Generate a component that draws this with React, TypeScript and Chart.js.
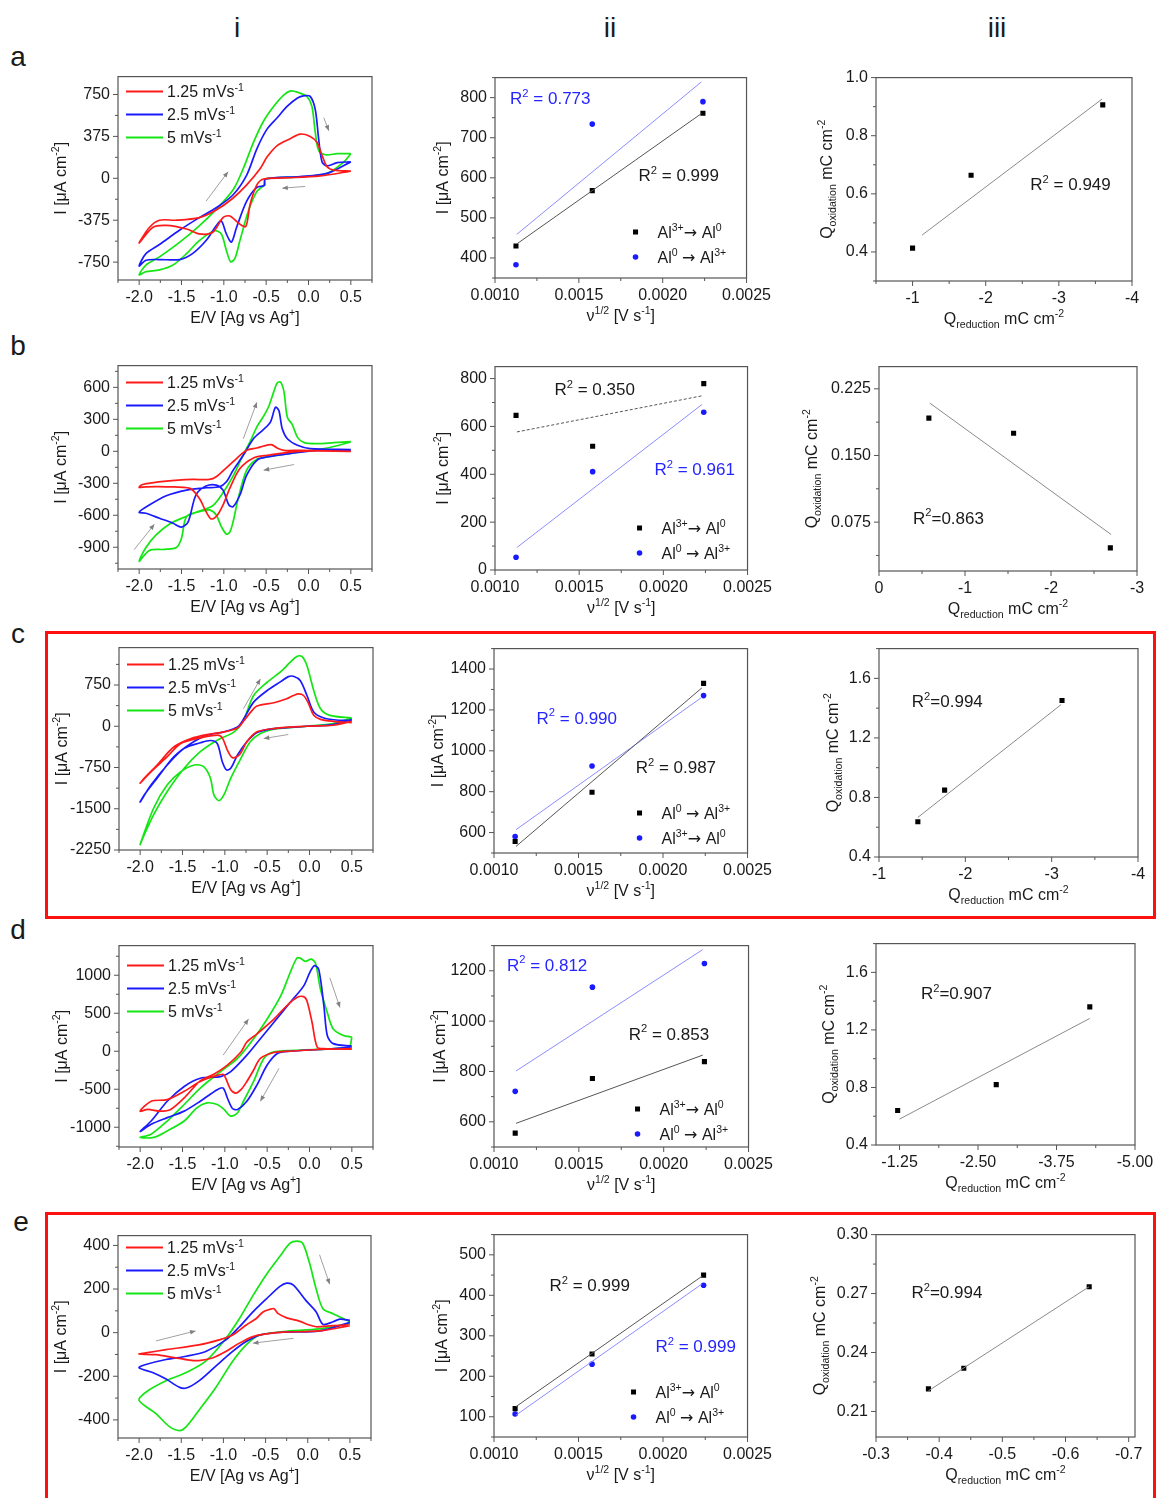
import React, { useEffect, useRef } from 'react';
import { Chart, registerables } from 'chart.js';

Chart.register(...registerables);

type Seg = [string, number];

const FONT = "'Liberation Sans', Arial, Helvetica, sans-serif";
const SYM_FONT = "'DejaVu Sans', sans-serif";
const C_RED = '#ff1a1a';
const C_BLUE = '#1a1aff';
const C_GREEN = '#14e614';
const C_TXT = '#1a1a1a';
const C_NOTE_BLUE = '#2525ff';

// ---------------- column i : cyclic voltammograms (E / V, I / uA cm-2) ----------------
const aRedE = [0.50, 0.14, -0.29, -0.53, -0.61, -0.69, -0.74, -0.81, -0.93, -1.01, -1.13, -1.29, -1.44, -1.68, -1.84, -2.00, -1.88, -1.76, -1.56, -1.29, -1.09, -0.89, -0.73, -0.57, -0.49, -0.37, -0.21, -0.10, 0.02, 0.10, 0.16, 0.22, 0.30, 0.50];
const aRedI = [64, 21, 3, -6, -59, -234, -431, -410, -337, -352, -483, -498, -454, -422, -440, -580, -440, -375, -375, -352, -284, -176, -59, 88, 190, 293, 357, 396, 375, 322, 205, 103, 73, 64];
const aBlueE = [0.50, 0.22, -0.10, -0.51, -0.52, -0.61, -0.73, -0.85, -0.91, -0.97, -1.03, -1.09, -1.21, -1.37, -1.52, -1.76, -1.92, -2.00, -1.92, -1.76, -1.52, -1.29, -1.09, -0.89, -0.73, -0.61, -0.49, -0.37, -0.25, -0.13, -0.06, 0.02, 0.08, 0.12, 0.16, 0.22, 0.34, 0.50];
const aBlueI = [147, 44, 15, -6, -64, -82, -205, -440, -571, -498, -381, -425, -557, -674, -727, -727, -733, -785, -674, -592, -463, -352, -264, -147, 29, 264, 440, 542, 645, 718, 738, 733, 615, 352, 147, 111, 141, 147];
const aGreenE = [0.50, 0.42, 0.22, -0.10, -0.51, -0.53, -0.61, -0.71, -0.81, -0.87, -0.92, -0.97, -1.03, -1.11, -1.29, -1.44, -1.60, -1.76, -1.92, -2.00, -1.92, -1.76, -1.52, -1.29, -1.09, -0.89, -0.77, -0.65, -0.53, -0.41, -0.29, -0.21, -0.12, -0.02, 0.04, 0.08, 0.12, 0.20, 0.34, 0.50];
const aGreenI = [220, 147, 44, 12, -6, -64, -117, -293, -557, -718, -747, -645, -498, -469, -557, -674, -776, -820, -835, -864, -776, -703, -571, -425, -278, -103, 88, 322, 513, 645, 747, 782, 768, 733, 645, 410, 249, 211, 220, 220];

const bRedE = [0.50, -0.10, -0.49, -0.65, -0.81, -0.93, -1.01, -1.09, -1.15, -1.21, -1.29, -1.40, -1.68, -1.92, -2.00, -1.96, -1.68, -1.37, -1.17, -1.09, -0.97, -0.85, -0.73, -0.61, -0.53, -0.44, -0.37, -0.29, -0.10, 0.50];
const bRedI = [0, 0, -37, -62, -162, -348, -504, -612, -634, -566, -441, -348, -333, -333, -339, -311, -280, -264, -264, -239, -155, -68, 9, 31, 50, 62, 31, 9, 9, 0];
const bBlueE = [0.50, 0.10, -0.17, -0.49, -0.61, -0.73, -0.81, -0.89, -0.94, -1.01, -1.09, -1.21, -1.33, -1.42, -1.50, -1.60, -1.76, -1.92, -2.00, -1.88, -1.68, -1.44, -1.21, -1.05, -0.97, -0.89, -0.77, -0.65, -0.53, -0.45, -0.39, -0.35, -0.31, -0.25, -0.13, 0.02, 0.50];
const bBlueI = [9, 9, -16, -53, -84, -224, -410, -519, -504, -364, -317, -326, -410, -659, -712, -675, -628, -581, -572, -504, -417, -364, -342, -333, -286, -177, -37, 118, 205, 274, 413, 382, 211, 118, 56, 25, 16];
const bGreenE = [0.50, 0.22, -0.10, -0.49, -0.61, -0.73, -0.83, -0.89, -0.93, -0.97, -1.03, -1.09, -1.17, -1.29, -1.44, -1.50, -1.56, -1.70, -1.88, -2.00, -1.92, -1.80, -1.64, -1.44, -1.29, -1.13, -1.01, -0.89, -0.77, -0.69, -0.61, -0.53, -0.47, -0.41, -0.37, -0.33, -0.29, -0.25, -0.19, -0.13, -0.05, 0.10, 0.30, 0.50];
const bGreenI = [87, 31, -6, -53, -75, -177, -441, -659, -759, -777, -706, -597, -550, -566, -612, -815, -902, -920, -930, -1032, -902, -784, -681, -609, -560, -510, -389, -230, -31, 90, 230, 330, 420, 560, 640, 650, 560, 320, 249, 131, 81, 72, 81, 90];

const cRedE = [0.50, 0.28, -0.03, -0.42, -0.62, -0.74, -0.83, -0.91, -0.97, -1.03, -1.09, -1.29, -1.52, -1.68, -1.87, -2.00, -1.95, -1.80, -1.60, -1.40, -1.21, -1.01, -0.85, -0.78, -0.70, -0.62, -0.42, -0.27, -0.19, -0.13, -0.07, -0.01, 0.05, 0.13, 0.28, 0.50];
const cRedI = [90, 18, 0, -42, -102, -283, -523, -571, -433, -211, -162, -211, -313, -553, -824, -1035, -944, -704, -373, -223, -150, -102, -30, 90, 247, 367, 427, 499, 559, 589, 559, 409, 198, 126, 90, 66];
const cBlueE = [0.50, 0.28, -0.03, -0.42, -0.62, -0.74, -0.85, -0.93, -0.98, -1.03, -1.09, -1.17, -1.29, -1.48, -1.68, -1.87, -2.00, -1.95, -1.80, -1.60, -1.40, -1.21, -1.01, -0.85, -0.78, -0.66, -0.50, -0.34, -0.25, -0.19, -0.11, -0.03, 0.05, 0.17, 0.36, 0.50];
const cBlueI = [126, 30, 0, -42, -114, -283, -523, -764, -794, -644, -313, -259, -301, -403, -704, -1065, -1377, -1245, -944, -553, -313, -162, -102, -12, 126, 439, 650, 812, 902, 908, 830, 559, 259, 150, 108, 108];
const cGreenE = [0.50, 0.28, -0.03, -0.42, -0.58, -0.70, -0.81, -0.93, -1.01, -1.07, -1.13, -1.17, -1.25, -1.36, -1.52, -1.68, -1.84, -2.00, -1.95, -1.84, -1.68, -1.48, -1.29, -1.09, -0.89, -0.78, -0.66, -0.50, -0.34, -0.23, -0.15, -0.09, -0.03, 0.05, 0.13, 0.24, 0.50];
const cGreenI = [150, 48, 0, -54, -132, -283, -583, -944, -1245, -1353, -1245, -944, -734, -704, -824, -1065, -1486, -2147, -1967, -1606, -1185, -764, -463, -253, -102, 108, 559, 800, 992, 1161, 1269, 1269, 1101, 650, 319, 198, 150];

const dRedE = [0.50, 0.17, -0.23, -0.42, -0.58, -0.66, -0.74, -0.81, -0.87, -0.93, -0.99, -1.02, -1.13, -1.29, -1.48, -1.68, -1.87, -2.00, -1.91, -1.76, -1.64, -1.48, -1.29, -1.13, -0.97, -0.81, -0.74, -0.62, -0.42, -0.27, -0.15, -0.07, -0.03, 0.03, 0.09, 0.17, 0.50];
const dRedI = [35, 26, 0, -17, -95, -247, -398, -506, -550, -506, -355, -303, -333, -398, -528, -636, -658, -788, -766, -788, -766, -615, -390, -303, -182, -9, 121, 229, 424, 597, 706, 719, 662, 381, 56, 35, 26];
const dBlueE = [0.50, 0.17, -0.23, -0.38, -0.50, -0.62, -0.74, -0.85, -0.91, -0.97, -1.02, -1.09, -1.29, -1.48, -1.68, -1.87, -2.00, -1.87, -1.68, -1.48, -1.29, -1.05, -0.93, -0.74, -0.58, -0.42, -0.23, -0.07, 0.01, 0.06, 0.11, 0.17, 0.21, 0.28, 0.50];
const dBlueI = [56, 26, 0, -30, -182, -442, -658, -766, -753, -615, -485, -506, -658, -788, -874, -961, -1056, -918, -658, -463, -355, -333, -268, -52, 164, 381, 641, 857, 1052, 1126, 1074, 597, 208, 100, 69];
const dGreenE = [0.50, 0.47, 0.30, -0.05, -0.42, -0.54, -0.66, -0.78, -0.85, -0.93, -1.01, -1.09, -1.21, -1.33, -1.48, -1.68, -1.84, -2.00, -1.87, -1.68, -1.48, -1.29, -1.05, -0.85, -0.66, -0.50, -0.34, -0.23, -0.15, -0.11, -0.05, 0.02, 0.07, 0.13, 0.21, 0.28, 0.40, 0.50];
const dGreenI = [186, 60, 35, 17, -9, -95, -398, -658, -810, -853, -766, -701, -680, -745, -918, -1048, -1134, -1134, -1091, -918, -701, -485, -268, -95, 164, 424, 727, 1030, 1225, 1225, 1182, 1212, 1160, 814, 511, 294, 208, 186];

const eRedE = [0.50, 0.14, -0.29, -0.53, -0.65, -0.81, -0.97, -1.13, -1.29, -1.40, -1.60, -1.80, -2.00, -1.92, -1.68, -1.29, -1.05, -0.89, -0.73, -0.61, -0.53, -0.45, -0.40, -0.35, -0.25, -0.10, 0.02, 0.10, 0.30, 0.50];
const eRedI = [32, 8, 2, -8, -18, -48, -86, -116, -128, -126, -113, -101, -98, -93, -78, -56, -33, -11, 35, 65, 95, 107, 110, 87, 68, 53, 35, 27, 32, 35];
const eBlueE = [0.50, 0.14, -0.29, -0.57, -0.73, -0.89, -1.09, -1.29, -1.44, -1.52, -1.68, -1.84, -2.00, -1.92, -1.68, -1.44, -1.21, -0.97, -0.81, -0.65, -0.49, -0.33, -0.25, -0.17, -0.02, 0.10, 0.18, 0.30, 0.38, 0.50];
const eBlueI = [47, 8, 2, -11, -41, -86, -153, -221, -254, -251, -213, -183, -161, -146, -123, -108, -86, -33, 27, 95, 155, 212, 227, 218, 147, 95, 38, 50, 62, 56];
const eGreenE = [0.50, 0.14, -0.29, -0.57, -0.73, -0.89, -1.09, -1.29, -1.44, -1.52, -1.64, -1.80, -2.00, -1.92, -1.68, -1.44, -1.21, -0.97, -0.81, -0.65, -0.49, -0.33, -0.21, -0.13, -0.06, 0.02, 0.10, 0.18, 0.30, 0.50];
const eGreenI = [42, 17, 5, -11, -56, -131, -251, -356, -431, -449, -431, -371, -311, -273, -221, -183, -131, -26, 65, 170, 267, 350, 410, 420, 410, 320, 200, 110, 87, 50];

// scan-direction arrows [E1, I1, E2, I2]
const aArrows = [[-1.21, -205, -0.95, 59], [-0.04, -73, -0.31, -88], [0.18, 542, 0.24, 425]];
const bArrows = [[-0.77, 118, -0.61, 460], [-0.17, -124, -0.53, -177], [-2.06, -923, -1.82, -684]];
const cArrows = [[-0.78, 319, -0.58, 860], [-0.25, -150, -0.54, -223]];
const dArrows = [[-1.02, -52, -0.72, 424], [0.24, 965, 0.36, 576], [-0.36, -225, -0.58, -658]];
const eArrows = [[-1.80, -38, -1.33, 8], [-0.17, -26, -0.65, -48], [0.14, 357, 0.26, 222]];

// ---------------- column ii : peak current vs v^1/2 ----------------
const rootScan = [0.001125, 0.00158, 0.00224];
const rootFit = [0.00113, 0.00223];
const aPeakBlack = [430, 568, 761];
const aPeakBlue = [383, 734, 790];
const aFitBlack = [435, 760];
const aFitBlue = [459, 839];
const bPeakBlack = [646, 517, 779];
const bPeakBlue = [53, 411, 659];
const bFitBlack = [577, 728];
const bFitBlue = [94, 692];
const cPeakBlack = [556, 797, 1330];
const cPeakBlue = [581, 926, 1270];
const cFitBlack = [532, 1308];
const cFitBlue = [614, 1262];
const dPeakBlack = [555, 772, 839];
const dPeakBlue = [721, 1135, 1229];
const dFitBlack = [594, 865];
const dFitBlue = [802, 1284];
const ePeakBlack = [120, 255, 450];
const ePeakBlue = [107, 230, 425];
const eFitBlack = [125, 447];
const eFitBlue = [104, 428];

// ---------------- column iii : Q oxidation vs Q reduction ----------------
const aQred = [-1.0, -1.80, -3.60];
const aQox = [0.413, 0.664, 0.906];
const aQfitX = [-1.13, -3.59];
const aQfitY = [0.458, 0.926];
const bQred = [-0.58, -1.565, -2.69];
const bQox = [0.192, 0.175, 0.046];
const bQfitX = [-0.59, -2.70];
const bQfitY = [0.209, 0.061];
const cQred = [-1.45, -1.76, -3.12];
const cQox = [0.637, 0.849, 1.451];
const cQfitX = [-1.45, -3.11];
const cQfitY = [0.666, 1.424];
const dQred = [-1.22, -2.79, -4.28];
const dQox = [0.64, 0.82, 1.36];
const dQfitX = [-1.25, -4.28];
const dQfitY = [0.58, 1.28];
const eQred = [-0.383, -0.439, -0.6375];
const eQox = [0.2215, 0.232, 0.2735];
const eQfitX = [-0.383, -0.6375];
const eQfitY = [0.2205, 0.2735];

// ---------------- tick values ----------------
const cvX = [-2, -1.5, -1, -0.5, 0, 0.5];
const aCvY = [-750, -375, 0, 375, 750];
const bCvY = [-900, -600, -300, 0, 300, 600];
const cCvY = [-2250, -1500, -750, 0, 750];
const dCvY = [-1000, -500, 0, 500, 1000];
const eCvY = [-400, -200, 0, 200, 400];
const rootX = [0.001, 0.0015, 0.002, 0.0025];
const aPkY = [400, 500, 600, 700, 800];
const bPkY = [0, 200, 400, 600, 800];
const cPkY = [600, 800, 1000, 1200, 1400];
const dPkY = [600, 800, 1000, 1200];
const ePkY = [100, 200, 300, 400, 500];
const aQX = [-4, -3, -2, -1];
const aQY = [0.4, 0.6, 0.8, 1.0];
const bQX = [-3, -2, -1, 0];
const bQY = [0.075, 0.15, 0.225];
const cQX = [-4, -3, -2, -1];
const cQY = [0.4, 0.8, 1.2, 1.6];
const dQX = [-5, -3.75, -2.5, -1.25];
const dQY = [0.4, 0.8, 1.2, 1.6];
const eQX = [-0.7, -0.6, -0.5, -0.4, -0.3];
const eQY = [0.21, 0.24, 0.27, 0.30];

// ---------------- texts ----------------
const cvYTitle: Seg[] = [['I [\u03bcA cm', 0], ['-2', 1], [']', 0]];
const cvXTitle: Seg[] = [['E/V [Ag vs Ag', 0], ['+', 1], [']', 0]];
const rootXTitle: Seg[] = [['\u03bd', 0], ['1/2', 1], [' [V s', 0], ['-1', 1], [']', 0]];
const qYTitle: Seg[] = [['Q', 0], ['oxidation', -1], [' mC cm', 0], ['-2', 1]];
const qXTitle: Seg[] = [['Q', 0], ['reduction', -1], [' mC cm', 0], ['-2', 1]];
const scanLabels: Seg[][] = [
  [['1.25 mVs', 0], ['-1', 1]],
  [['2.5 mVs', 0], ['-1', 1]],
  [['5 mVs', 0], ['-1', 1]],
];
const redLabel: Seg[] = [['Al', 0], ['3+', 1], ['\u2192', 2], [' Al', 0], ['0', 1]];
const oxLabel: Seg[] = [['Al', 0], ['0', 1], [' ', 0], ['\u2192', 2], [' Al', 0], ['3+', 1]];
const r2 = (s: string): Seg[] => [['R', 0], ['2', 1], [s, 0]];

// ---------------- layout ----------------
const ML = 80, MT = 15, MR = 30, MB = 55, YW = 60, XH = 30;

interface Note { segs: Seg[]; x: number; y: number; color: string }
interface Panel {
  key: string;
  frame: number[];
  xr: number[]; yr: number[]; rev: boolean;
  xt: number[]; yt: number[]; xd: number; yd: number;
  xTitle: Seg[]; yTitle: Seg[]; yOff: number;
  sets: () => any[];
  notes: Note[];
  cvLegendTop?: number;
  peakLegend?: { dx: number; dy: number[]; labels: Seg[][] };
  arrows?: number[][];
}

function pts(xs: number[], ys: number[]) {
  return xs.map((x, i) => ({ x, y: ys[i] }));
}

function cvSets(r: number[][], b: number[][], g: number[][]) {
  const mk = (d: number[][], c: string) => ({
    data: pts(d[0], d[1]), borderColor: c, backgroundColor: c, borderWidth: 1.7,
    pointRadius: 0, showLine: true, tension: 0.3,
  });
  return [mk(r, C_RED), mk(b, C_BLUE), mk(g, C_GREEN)];
}

function peakSets(black: number[], blue: number[], fBlack: number[], fBlue: number[], dashed = false) {
  return [
    { data: pts(rootFit, fBlack), borderColor: '#555', borderWidth: 1, pointRadius: 0, showLine: true, borderDash: dashed ? [3, 2] : [] },
    { data: pts(rootFit, fBlue), borderColor: '#8c8cff', borderWidth: 1, pointRadius: 0, showLine: true },
    { data: pts(rootScan, black), backgroundColor: '#000', borderColor: '#000', pointStyle: 'rect', pointRadius: 3.6, borderWidth: 0, showLine: false },
    { data: pts(rootScan, blue), backgroundColor: C_BLUE, borderColor: C_BLUE, pointStyle: 'circle', pointRadius: 2.8, borderWidth: 0, showLine: false },
  ];
}

function chargeSets(qx: number[], qy: number[], fx: number[], fy: number[]) {
  return [
    { data: pts(fx, fy), borderColor: '#8a8a8a', borderWidth: 1, pointRadius: 0, showLine: true },
    { data: pts(qx, qy), backgroundColor: '#000', borderColor: '#000', pointStyle: 'rect', pointRadius: 3.6, borderWidth: 0, showLine: false },
  ];
}

const CVR = [-2.25, 0.75];

const PANELS: Panel[] = [
  // row a
  { key: 'ai', frame: [118, 74, 372, 280], xr: CVR, yr: [-910, 910], rev: false, xt: cvX, yt: aCvY, xd: 1, yd: 0,
    xTitle: cvXTitle, yTitle: cvYTitle, yOff: 58, sets: () => cvSets([aRedE, aRedI], [aBlueE, aBlueI], [aGreenE, aGreenI]),
    notes: [], cvLegendTop: 15, arrows: aArrows },
  { key: 'aii', frame: [495, 75, 749, 278], xr: [0.001, 0.0025], yr: [350, 850], rev: false, xt: rootX, yt: aPkY, xd: 4, yd: 0,
    xTitle: rootXTitle, yTitle: cvYTitle, yOff: 53, sets: () => peakSets(aPeakBlack, aPeakBlue, aFitBlack, aFitBlue),
    notes: [{ segs: r2(' = 0.773'), x: 0.00109, y: 800, color: C_NOTE_BLUE }, { segs: r2(' = 0.999'), x: 0.001856, y: 607, color: C_TXT }],
    peakLegend: { dx: -111, dy: [-46, -21], labels: [redLabel, oxLabel] } },
  { key: 'aiii', frame: [876, 75, 1132, 281], xr: [-4, -0.5], yr: [0.3, 1.0], rev: true, xt: aQX, yt: aQY, xd: 0, yd: 1,
    xTitle: qXTitle, yTitle: qYTitle, yOff: 50, sets: () => chargeSets(aQred, aQox, aQfitX, aQfitY),
    notes: [{ segs: r2(' = 0.949'), x: -2.61, y: 0.634, color: C_TXT }] },
  // row b
  { key: 'bi', frame: [118, 363, 372, 569], xr: CVR, yr: [-1104, 804], rev: false, xt: cvX, yt: bCvY, xd: 1, yd: 0,
    xTitle: cvXTitle, yTitle: cvYTitle, yOff: 58, sets: () => cvSets([bRedE, bRedI], [bBlueE, bBlueI], [bGreenE, bGreenI]),
    notes: [], cvLegendTop: 17, arrows: bArrows },
  { key: 'bii', frame: [495, 364, 750, 570], xr: [0.001, 0.0025], yr: [0, 850], rev: false, xt: rootX, yt: bPkY, xd: 4, yd: 0,
    xTitle: rootXTitle, yTitle: cvYTitle, yOff: 53, sets: () => peakSets(bPeakBlack, bPeakBlue, bFitBlack, bFitBlue, true),
    notes: [{ segs: r2(' = 0.350'), x: 0.001353, y: 757, color: C_TXT }, { segs: r2(' = 0.961'), x: 0.001947, y: 422, color: C_NOTE_BLUE }],
    peakLegend: { dx: -108, dy: [-42, -17], labels: [redLabel, oxLabel] } },
  { key: 'biii', frame: [879, 364, 1137, 571], xr: [-3, 0], yr: [0.02, 0.25], rev: true, xt: bQX, yt: bQY, xd: 0, yd: 3,
    xTitle: qXTitle, yTitle: qYTitle, yOff: 68, sets: () => chargeSets(bQred, bQox, bQfitX, bQfitY),
    notes: [{ segs: r2('=0.863'), x: -0.395, y: 0.0802, color: C_TXT }] },
  // row c
  { key: 'ci', frame: [119, 645, 373, 850], xr: CVR, yr: [-2250, 1430], rev: false, xt: cvX, yt: cCvY, xd: 1, yd: 0,
    xTitle: cvXTitle, yTitle: cvYTitle, yOff: 58, sets: () => cvSets([cRedE, cRedI], [cBlueE, cBlueI], [cGreenE, cGreenI]),
    notes: [], cvLegendTop: 17, arrows: cArrows },
  { key: 'cii', frame: [494, 646, 750, 853], xr: [0.001, 0.0025], yr: [500, 1500], rev: false, xt: rootX, yt: cPkY, xd: 4, yd: 0,
    xTitle: rootXTitle, yTitle: cvYTitle, yOff: 57, sets: () => peakSets(cPeakBlack, cPeakBlue, cFitBlack, cFitBlue),
    notes: [{ segs: r2(' = 0.990'), x: 0.001252, y: 1163, color: C_NOTE_BLUE }, { segs: r2(' = 0.987'), x: 0.001838, y: 920, color: C_TXT }],
    peakLegend: { dx: -108, dy: [-40, -15], labels: [oxLabel, redLabel] } },
  { key: 'ciii', frame: [879, 646, 1138, 857], xr: [-4, -1], yr: [0.4, 1.8], rev: true, xt: cQX, yt: cQY, xd: 0, yd: 1,
    xTitle: qXTitle, yTitle: qYTitle, yOff: 47, sets: () => chargeSets(cQred, cQox, cQfitX, cQfitY),
    notes: [{ segs: r2('=0.994'), x: -1.38, y: 1.451, color: C_TXT }] },
  // row d
  { key: 'di', frame: [119, 943, 373, 1147], xr: CVR, yr: [-1260, 1390], rev: false, xt: cvX, yt: dCvY, xd: 1, yd: 0,
    xTitle: cvXTitle, yTitle: cvYTitle, yOff: 58, sets: () => cvSets([dRedE, dRedI], [dBlueE, dBlueI], [dGreenE, dGreenI]),
    notes: [], cvLegendTop: 20, arrows: dArrows },
  { key: 'dii', frame: [494, 943, 751, 1147], xr: [0.001, 0.0025], yr: [500, 1300], rev: false, xt: rootX, yt: dPkY, xd: 4, yd: 0,
    xTitle: rootXTitle, yTitle: cvYTitle, yOff: 55, sets: () => peakSets(dPeakBlack, dPeakBlue, dFitBlack, dFitBlue),
    notes: [{ segs: r2(' = 0.812'), x: 0.001076, y: 1225, color: C_NOTE_BLUE }, { segs: r2(' = 0.853'), x: 0.001794, y: 951, color: C_TXT }],
    peakLegend: { dx: -111, dy: [-38, -13], labels: [redLabel, oxLabel] } },
  { key: 'diii', frame: [876, 941, 1135, 1145], xr: [-5, -0.875], yr: [0.4, 1.8], rev: true, xt: dQX, yt: dQY, xd: 2, yd: 1,
    xTitle: qXTitle, yTitle: qYTitle, yOff: 48, sets: () => chargeSets(dQred, dQox, dQfitX, dQfitY),
    notes: [{ segs: r2('=0.907'), x: -1.59, y: 1.455, color: C_TXT }] },
  // row e
  { key: 'ei', frame: [118, 1233, 371, 1438], xr: CVR, yr: [-483, 445], rev: false, xt: cvX, yt: eCvY, xd: 1, yd: 0,
    xTitle: cvXTitle, yTitle: cvYTitle, yOff: 58, sets: () => cvSets([eRedE, eRedI], [eBlueE, eBlueI], [eGreenE, eGreenI]),
    notes: [], cvLegendTop: 12, arrows: eArrows },
  { key: 'eii', frame: [494, 1232, 750, 1437], xr: [0.001, 0.0025], yr: [50, 550], rev: false, xt: rootX, yt: ePkY, xd: 4, yd: 0,
    xTitle: rootXTitle, yTitle: cvYTitle, yOff: 53, sets: () => peakSets(ePeakBlack, ePeakBlue, eFitBlack, eFitBlue),
    notes: [{ segs: r2(' = 0.999'), x: 0.001328, y: 426, color: C_TXT }, { segs: r2(' = 0.999'), x: 0.001955, y: 274, color: C_NOTE_BLUE }],
    peakLegend: { dx: -114, dy: [-45, -20], labels: [redLabel, oxLabel] } },
  { key: 'eiii', frame: [876, 1232, 1135, 1437], xr: [-0.71, -0.3], yr: [0.197, 0.3], rev: true, xt: eQX, yt: eQY, xd: 1, yd: 2,
    xTitle: qXTitle, yTitle: qYTitle, yOff: 57, sets: () => chargeSets(eQred, eQox, eQfitX, eQfitY),
    notes: [{ segs: r2('=0.994'), x: -0.356, y: 0.2709, color: C_TXT }] },
];

const HEADERS: [string, number, number][] = [
  ['i', 237, 28], ['ii', 610, 28], ['iii', 997, 28],
  ['a', 18, 57], ['b', 18, 346], ['c', 18, 634], ['d', 18, 930], ['e', 21, 1222],
];
const BOXES = [[45, 631, 1156, 919], [45, 1212, 1156, 1510]];

// ---------------- drawing helpers ----------------
function segFont(m: number, size: number) {
  if (m === 2) return `${size}px ${SYM_FONT}`;
  return `${m ? size * 0.66 : size}px ${FONT}`;
}

function richWidth(ctx: CanvasRenderingContext2D, segs: Seg[], size: number) {
  let w = 0;
  for (const [t, m] of segs) {
    ctx.font = segFont(m, size);
    w += ctx.measureText(t).width;
  }
  return w;
}

function rich(ctx: CanvasRenderingContext2D, segs: Seg[], x: number, y: number, size: number, color: string,
  align: 'left' | 'center' = 'left', rot = false) {
  ctx.save();
  ctx.translate(x, y);
  if (rot) ctx.rotate(-Math.PI / 2);
  const w = richWidth(ctx, segs, size);
  let cx = align === 'center' ? -w / 2 : 0;
  ctx.fillStyle = color;
  ctx.textAlign = 'left';
  ctx.textBaseline = 'alphabetic';
  const base = size * 0.36;
  for (const [t, m] of segs) {
    ctx.font = segFont(m, size);
    const dy = m === 1 ? -size * 0.42 : m === -1 ? size * 0.24 : 0;
    ctx.fillText(t, cx, base + dy);
    cx += ctx.measureText(t).width;
  }
  ctx.restore();
}

function minors(t: number[], r: number[]) {
  const st = t[1] - t[0];
  const lo = Math.min(r[0], r[1]) - 1e-9;
  const hi = Math.max(r[0], r[1]) + 1e-9;
  const out: number[] = [];
  for (let k = -12; k < t.length + 12; k++) {
    const v = t[0] + (k + 0.5) * st;
    if (v >= lo && v <= hi) out.push(v);
  }
  return out;
}

function deco(p: Panel) {
  return {
    id: 'deco_' + p.key,
    afterDatasetsDraw(chart: any) {
      const ctx: CanvasRenderingContext2D = chart.ctx;
      const a = chart.chartArea;
      const sx = chart.scales.x;
      const sy = chart.scales.y;
      const X = (v: number) => sx.getPixelForValue(v);
      const Y = (v: number) => sy.getPixelForValue(v);
      ctx.save();
      if (p.arrows) {
        ctx.strokeStyle = '#a0a0a0';
        ctx.fillStyle = '#808080';
        ctx.lineWidth = 1;
        for (const [x1, y1, x2, y2] of p.arrows) {
          const ax = X(x1), ay = Y(y1), bx = X(x2), by = Y(y2);
          ctx.beginPath(); ctx.moveTo(ax, ay); ctx.lineTo(bx, by); ctx.stroke();
          const ang = Math.atan2(by - ay, bx - ax);
          ctx.beginPath();
          ctx.moveTo(bx, by);
          ctx.lineTo(bx - 6 * Math.cos(ang - 0.4), by - 6 * Math.sin(ang - 0.4));
          ctx.lineTo(bx - 6 * Math.cos(ang + 0.4), by - 6 * Math.sin(ang + 0.4));
          ctx.closePath(); ctx.fill();
        }
      }
      ctx.strokeStyle = '#555';
      ctx.lineWidth = 1.2;
      ctx.strokeRect(a.left, a.top, a.right - a.left, a.bottom - a.top);
      ctx.lineWidth = 1;
      ctx.beginPath();
      for (const v of p.xt) { const x = X(v); ctx.moveTo(x, a.bottom); ctx.lineTo(x, a.bottom + 5); }
      for (const v of minors(p.xt, p.xr)) { const x = X(v); ctx.moveTo(x, a.bottom); ctx.lineTo(x, a.bottom + 3); }
      for (const v of p.yt) { const y = Y(v); ctx.moveTo(a.left, y); ctx.lineTo(a.left - 5, y); }
      for (const v of minors(p.yt, p.yr)) { const y = Y(v); ctx.moveTo(a.left, y); ctx.lineTo(a.left - 3, y); }
      ctx.stroke();

      rich(ctx, p.xTitle, (a.left + a.right) / 2, a.bottom + 37, 16, C_TXT, 'center');
      rich(ctx, p.yTitle, a.left - p.yOff, (a.top + a.bottom) / 2, 16, C_TXT, 'center', true);
      for (const n of p.notes) rich(ctx, n.segs, X(n.x), Y(n.y), 17, n.color, 'left');

      if (p.cvLegendTop !== undefined) {
        const cols = [C_RED, C_BLUE, C_GREEN];
        scanLabels.forEach((segs, i) => {
          const y = a.top + (p.cvLegendTop as number) + i * 23;
          ctx.strokeStyle = cols[i];
          ctx.lineWidth = 2;
          ctx.beginPath(); ctx.moveTo(a.left + 8, y); ctx.lineTo(a.left + 45, y); ctx.stroke();
          rich(ctx, segs, a.left + 49, y, 16, C_TXT, 'left');
        });
      }
      if (p.peakLegend) {
        const L = p.peakLegend;
        const mx = a.right + L.dx;
        const y0 = a.bottom + L.dy[0];
        const y1 = a.bottom + L.dy[1];
        ctx.fillStyle = '#000';
        ctx.fillRect(mx - 2.5, y0 - 2.5, 5, 5);
        ctx.fillStyle = C_BLUE;
        ctx.beginPath(); ctx.arc(mx, y1, 2.8, 0, Math.PI * 2); ctx.fill();
        rich(ctx, L.labels[0], mx + 22, y0, 16, C_TXT, 'left');
        rich(ctx, L.labels[1], mx + 22, y1, 16, C_TXT, 'left');
      }
      ctx.restore();
    },
  };
}

function PanelChart({ p }: { p: Panel }) {
  const ref = useRef<HTMLCanvasElement>(null);
  const [l, t, r, b] = p.frame;
  const W = r - l + ML + MR;
  const H = b - t + MT + MB;
  useEffect(() => {
    if (!ref.current) return;
    const tickFont = { family: FONT, size: 16 };
    const chart = new Chart(ref.current, {
      type: 'scatter',
      data: { datasets: p.sets() },
      options: {
        animation: false,
        responsive: false,
        devicePixelRatio: 1,
        events: [],
        layout: { padding: { left: ML - YW, top: MT, right: MR, bottom: MB - XH } },
        plugins: { legend: { display: false }, tooltip: { enabled: false }, title: { display: false } },
        scales: {
          x: {
            type: 'linear',
            min: Math.min(p.xr[0], p.xr[1]),
            max: Math.max(p.xr[0], p.xr[1]),
            reverse: p.rev,
            afterBuildTicks: (s: any) => { s.ticks = p.xt.map((v) => ({ value: v })); },
            afterFit: (s: any) => { s.height = XH; },
            grid: { display: false, drawTicks: false },
            border: { display: false },
            ticks: {
              autoSkip: false, maxRotation: 0, minRotation: 0, padding: 8, color: C_TXT, font: tickFont,
              callback: (v: any) => Number(v).toFixed(p.xd),
            },
          },
          y: {
            type: 'linear',
            min: p.yr[0],
            max: p.yr[1],
            afterBuildTicks: (s: any) => { s.ticks = p.yt.map((v) => ({ value: v })); },
            afterFit: (s: any) => { s.width = YW; },
            grid: { display: false, drawTicks: false },
            border: { display: false },
            ticks: {
              autoSkip: false, padding: 8, color: C_TXT, font: tickFont,
              callback: (v: any) => Number(v).toFixed(p.yd),
            },
          },
        },
      } as any,
      plugins: [deco(p)],
    });
    return () => chart.destroy();
  }, [p]);
  return (
    <canvas
      ref={ref}
      width={W}
      height={H}
      style={{ position: 'absolute', left: l - ML, top: t - MT, width: W, height: H }}
    />
  );
}

export default function App() {
  return (
    <div style={{ position: 'absolute', left: 0, top: 0, width: 1158, height: 1498, overflow: 'hidden', background: '#fff' }}>
      {BOXES.map(([x1, y1, x2, y2], i) => (
        <div key={'box' + i} style={{ position: 'absolute', left: x1, top: y1, width: x2 - x1, height: y2 - y1, border: '3px solid #ff1010', boxSizing: 'border-box' }} />
      ))}
      {HEADERS.map(([txt, x, y]) => (
        <div key={txt} style={{ position: 'absolute', left: x, top: y, transform: 'translate(-50%, -50%)', fontFamily: FONT, fontSize: 28, lineHeight: 1, color: C_TXT }}>{txt}</div>
      ))}
      {PANELS.map((p) => <PanelChart key={p.key} p={p} />)}
    </div>
  );
}
